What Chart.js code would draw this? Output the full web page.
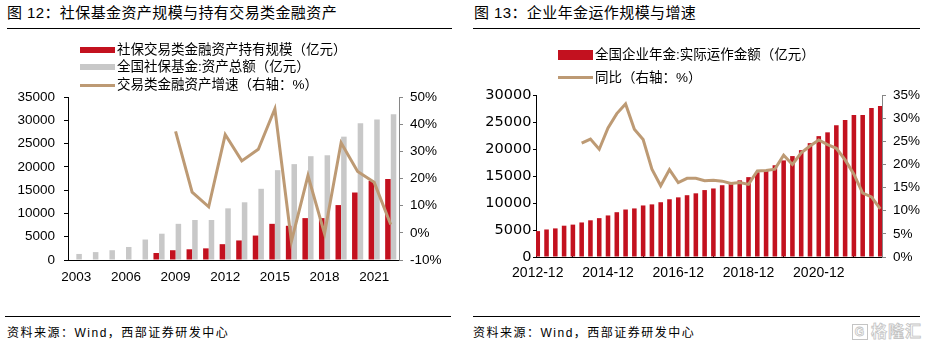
<!DOCTYPE html>
<html lang="zh-CN">
<head>
<meta charset="utf-8">
<title>社保基金与企业年金</title>
<script src="https://cdn.jsdelivr.net/npm/chart.js@4.4.1/dist/chart.umd.min.js"></script>
<style>
    html, body { margin: 0; padding: 0; background: #fff; }
    body {
        width: 929px; height: 345px; position: relative; overflow: hidden;
        font-family: 'Liberation Sans', 'Noto Sans CJK SC', sans-serif; color: #000;
    }
    canvas { position: absolute; }
    .title { position: absolute; top: 4px; font-size: 15px; line-height: 18px; letter-spacing: 0.4px; white-space: nowrap; }
    .rule { position: absolute; height: 1px; background: #000; }
    .legend { position: absolute; top: 0; font-size: 13.5px; z-index: 2; }
    .legend-item { position: absolute; left: 0; white-space: nowrap; }
    .legend-item .swatch { position: absolute; left: 0; width: 35px; }
    .legend-item .text { position: absolute; left: 37px; line-height: 18px; }
    .source { position: absolute; top: 326px; font-size: 12px; line-height: 14px; letter-spacing: 1.5px; white-space: nowrap; }
    .wm { position: absolute; left: 852px; top: 323px; font-size: 16px; line-height: 18px; font-weight: bold;
          color: #fff; -webkit-text-stroke: 0.8px #c4c4c4; letter-spacing: 1px; white-space: nowrap; }
    .wm .g { display: inline-block; width: 14px; height: 14px; border: 1px solid #c4c4c4; margin-right: 3px;
             font-size: 12px; line-height: 14px; text-align: center; vertical-align: 1px; }
</style>
</head>
<body>

<div class="title" style="left:7px">图 12：社保基金资产规模与持有交易类金融资产</div>
<div class="rule" style="left:7px; top:28px; width:445px"></div>
<div class="title" style="left:474px">图 13：企业年金运作规模与增速</div>
<div class="rule" style="left:473px; top:28px; width:447px"></div>

<canvas id="fig12" width="460" height="205" style="left:0; top:80px"></canvas>
<canvas id="fig13" width="464" height="205" style="left:465px; top:80px"></canvas>

<div class="legend" id="legend12" style="left:80px"></div>
<div class="legend" id="legend13" style="left:558px"></div>

<div class="rule" style="left:5px; top:316px; width:446px"></div>
<div class="source" style="left:7px">资料来源：Wind，西部证券研发中心</div>
<div class="rule" style="left:473px; top:316px; width:447px"></div>
<div class="source" style="left:473px">资料来源：Wind，西部证券研发中心</div>
<div class="wm"><span class="g">G</span>格隆汇</div>

<script>
// ---- 图12 data (annual) ----
const years = ['2003', '2004', '2005', '2006', '2007', '2008', '2009', '2010', '2011', '2012',
               '2013', '2014', '2015', '2016', '2017', '2018', '2019', '2020', '2021', '2022'];
const tradingAssets = [null, null, null, null, null, 1500, 2100, 2300, 2500, 3400,
                       4200, 5250, 7770, 7350, 9000, 9000, 11800, 14500, 17000, 17400];
const nssfAssets = [1300, 1700, 2100, 2800, 4400, 5650, 7770, 8600, 8600, 11100,
                    12400, 15300, 19300, 20600, 22300, 22500, 26500, 29400, 30200, 31300];
const tradingGrowth = [null, null, null, null, null, null, 37.4, 15.0, 9.6, 36.2,
                       26.5, 30.8, 45.7, -3.1, 21.1, -0.3, 33.2, 22.6, 18.6, 3.1];
const fig12XTicks = ['2003', '2006', '2009', '2012', '2015', '2018', '2021'];
const fig12Labels = ['社保交易类金融资产持有规模（亿元）', '全国社保基金:资产总额（亿元）', '交易类金融资产增速（右轴：%）'];

// ---- 图13 data (quarterly) ----
const quarters = ['2012-12', '2013-03', '2013-06', '2013-09', '2013-12', '2014-03', '2014-06', '2014-09',
                  '2014-12', '2015-03', '2015-06', '2015-09', '2015-12', '2016-03', '2016-06', '2016-09',
                  '2016-12', '2017-03', '2017-06', '2017-09', '2017-12', '2018-03', '2018-06', '2018-09',
                  '2018-12', '2019-03', '2019-06', '2019-09', '2019-12', '2020-03', '2020-06', '2020-09',
                  '2020-12', '2021-03', '2021-06', '2021-09', '2021-12', '2022-03', '2022-06', '2022-09'];
const pensionAssets = [4800, 5100, 5300, 5800, 6000, 6400, 6800, 7200,
                       7700, 8300, 8800, 9000, 9550, 9750, 10150, 10700,
                       11050, 11450, 11800, 12400, 12700, 13300, 13500, 14200,
                       14800, 15700, 16100, 17000, 17900, 18700, 19800, 21100,
                       22400, 23100, 24400, 25400, 26300, 26300, 27600, 28000];
const pensionYoY = [null, null, null, null, null, 24.6, 25.5, 23.3,
                    27.9, 31.0, 33.1, 27.6, 25.4, 19.0, 15.4, 18.9,
                    16.1, 17.0, 17.0, 16.5, 16.6, 16.4, 15.9, 16.1,
                    15.7, 18.6, 18.7, 19.0, 22.0, 20.0, 22.5, 24.0,
                    25.3, 24.3, 23.5, 21.0, 17.9, 13.8, 13.0, 10.4];
const fig13XTicks = ['2012-12', '2014-12', '2016-12', '2018-12', '2020-12'];
const fig13Labels = ['全国企业年金:实际运作金额（亿元）', '同比（右轴：%）'];

const RED = '#C3111F';
const GRAY = '#C8C8C8';
const TAN = '#BD9A74';
const AXIS_GRAY = '#868686';
const ARIAL = "'Liberation Sans', Arial, sans-serif";

Chart.defaults.font.family = ARIAL;
Chart.defaults.color = '#000';

function plainNumber(v) {
    return String(v);
}

/**
 * Simple HTML legend, one row per entry.
 */
function buildLegend(id, items) {
    const box = document.getElementById(id);
    items.forEach(function(item) {
        const row = document.createElement('div');
        row.className = 'legend-item';
        row.style.top = (item.center - 9) + 'px';
        const sw = document.createElement('div');
        sw.className = 'swatch';
        sw.style.background = item.color;
        sw.style.height = item.h + 'px';
        sw.style.top = (9 - item.h / 2) + 'px';
        const txt = document.createElement('div');
        txt.className = 'text';
        txt.textContent = item.label;
        row.appendChild(sw);
        row.appendChild(txt);
        box.appendChild(row);
    });
}

function initFig12() {
    const ctx = document.getElementById('fig12');
    const tickFont = { size: 13.5, family: ARIAL };

    new Chart(ctx, {
        type: 'bar',
        data: {
            labels: years,
            datasets: [{
                type: 'line',
                label: fig12Labels[2],
                data: tradingGrowth,
                yAxisID: 'y1',
                borderColor: TAN,
                borderWidth: 3,
                pointRadius: 0,
                tension: 0,
                order: 0
            }, {
                label: fig12Labels[0],
                data: tradingAssets,
                backgroundColor: RED,
                categoryPercentage: 0.68,
                barPercentage: 0.98,
                order: 1
            }, {
                label: fig12Labels[1],
                data: nssfAssets,
                backgroundColor: GRAY,
                categoryPercentage: 0.68,
                barPercentage: 0.98,
                order: 1
            }]
        },
        options: {
            responsive: false,
            animation: false,
            layout: { padding: { top: 13, left: 0, right: 0, bottom: 0 } },
            plugins: { legend: { display: false }, tooltip: { enabled: false } },
            scales: {
                x: {
                    grid: { drawOnChartArea: false, drawTicks: false },
                    border: { color: '#000', width: 1 },
                    ticks: {
                        autoSkip: false,
                        maxRotation: 0,
                        padding: 9,
                        font: tickFont,
                        callback: function(v, i) {
                            return fig12XTicks.includes(years[i]) ? years[i] : '';
                        }
                    },
                    afterFit: function(s) { s.height = 25; }
                },
                y: {
                    min: 0, max: 35000,
                    ticks: { stepSize: 5000, padding: 9, font: tickFont, callback: plainNumber },
                    grid: { drawOnChartArea: false, tickLength: 4, color: '#000' },
                    border: { color: '#000', width: 1 },
                    afterFit: function(s) { s.width = 68; }
                },
                y1: {
                    position: 'right',
                    min: -10, max: 50,
                    ticks: {
                        stepSize: 10, padding: 7, font: tickFont,
                        callback: function(v) { return v + '%'; }
                    },
                    grid: { drawOnChartArea: false, tickLength: 4, color: AXIS_GRAY },
                    border: { color: AXIS_GRAY, width: 1 },
                    afterFit: function(s) { s.width = 61; }
                }
            }
        }
    });

    buildLegend('legend12', [
        { label: fig12Labels[0], color: RED, h: 6, center: 50 },
        { label: fig12Labels[1], color: GRAY, h: 6, center: 67 },
        { label: fig12Labels[2], color: TAN, h: 3, center: 85 }
    ]);
}

function initFig13() {
    const ctx = document.getElementById('fig13');
    const tickFont = { size: 13.5, family: ARIAL };

    new Chart(ctx, {
        type: 'bar',
        data: {
            datasets: [{
                type: 'line',
                label: fig13Labels[1],
                data: pensionYoY.map(function(v, i) { return { x: i, y: v }; }),
                yAxisID: 'y1',
                borderColor: TAN,
                borderWidth: 3,
                pointRadius: 0,
                tension: 0,
                order: 0
            }, {
                label: fig13Labels[0],
                data: pensionAssets.map(function(v, i) { return { x: i, y: v }; }),
                backgroundColor: RED,
                categoryPercentage: 1,
                barPercentage: 0.52,
                order: 1
            }]
        },
        options: {
            responsive: false,
            animation: false,
            layout: { padding: { top: 15, left: 0, right: 0, bottom: 0 } },
            plugins: { legend: { display: false }, tooltip: { enabled: false } },
            scales: {
                x: {
                    type: 'linear',
                    min: -0.2, max: 39.2,
                    offset: false,
                    afterBuildTicks: function(s) {
                        s.ticks = fig13XTicks.map(function(l) { return { value: quarters.indexOf(l) }; });
                    },
                    ticks: {
                        autoSkip: false,
                        maxRotation: 0,
                        padding: 13,
                        font: { size: 14, family: ARIAL },
                        callback: function(v) { return quarters[v]; }
                    },
                    // short inward tick marks under the labels
                    grid: { drawOnChartArea: false, tickLength: -5, color: '#000' },
                    border: { color: '#000', width: 1 },
                    afterFit: function(s) { s.height = 28; }
                },
                y: {
                    min: 0, max: 30000,
                    ticks: {
                        stepSize: 5000, padding: 1.5, callback: plainNumber,
                        font: { size: 14.5, family: "'DejaVu Sans', sans-serif" }
                    },
                    grid: { drawOnChartArea: false, tickLength: 3, color: '#000' },
                    border: { color: '#000', width: 1 },
                    afterFit: function(s) { s.width = 71; }
                },
                y1: {
                    position: 'right',
                    min: 0, max: 35,
                    ticks: {
                        stepSize: 5, padding: 7, font: tickFont,
                        callback: function(v) { return v + '%'; }
                    },
                    grid: { drawOnChartArea: false, tickLength: 4, color: AXIS_GRAY },
                    border: { color: AXIS_GRAY, width: 1 },
                    afterFit: function(s) { s.width = 47; }
                }
            }
        }
    });

    buildLegend('legend13', [
        { label: fig13Labels[0], color: RED, h: 10, center: 55 },
        { label: fig13Labels[1], color: TAN, h: 3, center: 77.5 }
    ]);
}

initFig12();
initFig13();
</script>
</body>
</html>
